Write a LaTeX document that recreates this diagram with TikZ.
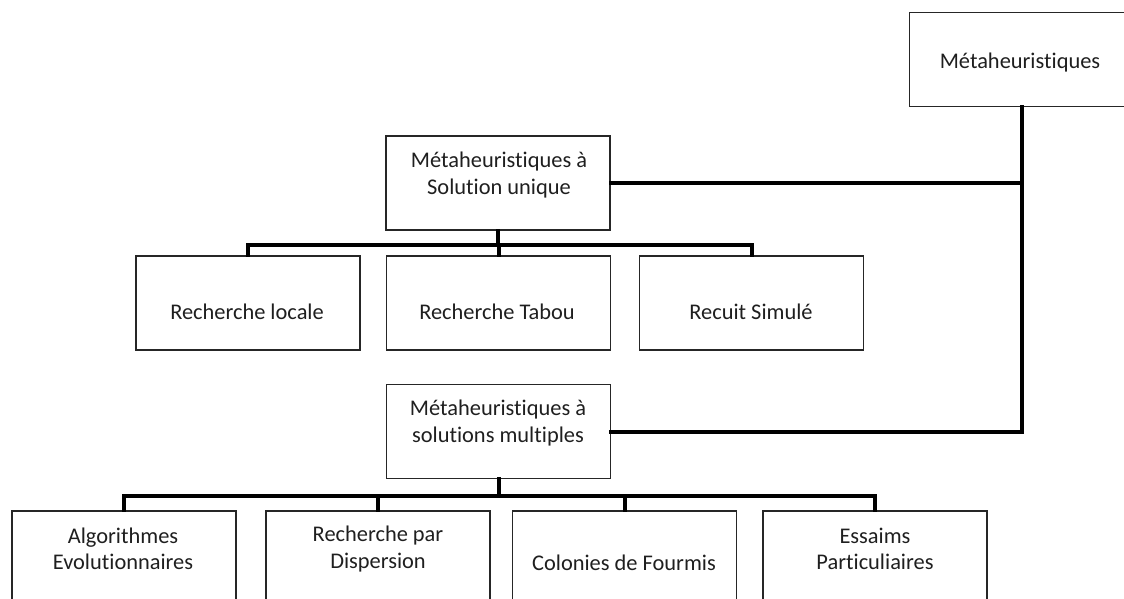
\documentclass[tikz,border=0pt]{standalone}
\usepackage{fontspec}
\setmainfont{Carlito}[Ligatures={NoCommon}]
\begin{document}
\begin{tikzpicture}[x=0.75pt, y=-0.75pt,
  box/.style={draw=black!85, line width=0.9pt, fill=white, rectangle,
    minimum width=168pt, minimum height=70.5pt, inner sep=0pt},
  label text/.style={font=\fontsize{16.8}{19.8}\selectfont, text=black!88,
    align=center, inner sep=0pt},
  conn/.style={draw=black, line width=3pt, line cap=rect, line join=miter}]
\useasboundingbox (0,0) rectangle (1124,599);
\clip (0,0) rectangle (1124,599);

% top level
\node[box] (root) at (1021.5,59.5) {};
\node[label text] (rootT) at (1020,63) {Métaheuristiques};

% single-solution branch
\node[box] (single) at (498,183) {};
\node[label text] (singleT) at (499,175) {Métaheuristiques à\\Solution unique};

\node[box] (rl) at (248,303) {};
\node[label text] (rlT) at (247,312) {Recherche locale};
\node[box] (rt) at (498.5,303) {};
\node[label text] (rtT) at (497,312) {Recherche Tabou};
\node[box] (rs) at (751.5,303) {};
\node[label text] (rsT) at (751,312) {Recuit Simulé};

% population-based branch
\node[box] (multi) at (498.5,431.5) {};
\node[label text] (multiT) at (498,423) {Métaheuristiques à\\solutions multiples};

\node[box] (ae) at (124,558) {};
\node[label text] (aeT) at (123,549) {Algorithmes\\Evolutionnaires};
\node[box] (rd) at (378,558) {};
\node[label text] (rdT) at (378,549) {Recherche par\\Dispersion};
\node[box] (cf) at (624.5,558) {};
\node[label text] (cfT) at (624,563) {Colonies de Fourmis};
\node[box] (ep) at (875,558) {};
\node[label text] (epT) at (875,549) {Essaims\\Particuliaires};

% bus levels
\coordinate (busA) at (498,245);
\coordinate (busB) at (498.5,496);

% trunk from the root to both branches
\draw[conn] (root.south) |- (multi.east);
\draw[conn] (single.east) -- (single.east -| root.south);

% single-solution subtree
\draw[conn] (single.south) -- (busA);
\draw[conn] (rl.north) |- (busA) -| (rs.north);
\draw[conn] (rt.north) -- (rt.north |- busA);

% population-based subtree
\draw[conn] (multi.south) -- (busB);
\draw[conn] (ae.north) |- (busB) -| (ep.north);
\draw[conn] (rd.north) -- (rd.north |- busB);
\draw[conn] (cf.north) -- (cf.north |- busB);
\end{tikzpicture}
\end{document}
